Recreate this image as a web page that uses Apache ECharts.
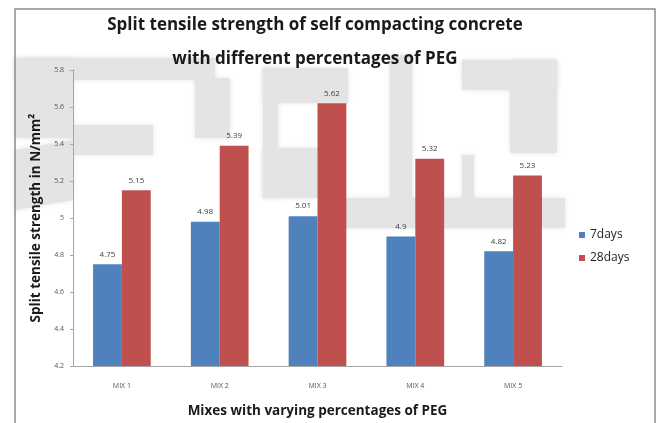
<!DOCTYPE html>
<html>
<head>
<meta charset="utf-8">
<script src="https://cdn.jsdelivr.net/npm/echarts@6/dist/echarts.min.js"></script>
<style>
  html, body { margin: 0; padding: 0; background: #fff; }
  #chart { width: 659px; height: 423px; }
</style>
</head>
<body>
<div id="chart"></div>
<script>
const categories = ["MIX 1", "MIX 2", "MIX 3", "MIX 4", "MIX 5"];
const days7 = [4.75, 4.98, 5.01, 4.9, 4.82];
const days28 = [5.15, 5.39, 5.62, 5.32, 5.23];

const fontFamily = "'Open Sans', 'Liberation Sans', sans-serif";
const mark = "#e4e4e4";

const chart = echarts.init(document.getElementById("chart"));

function barSeries(name, data, color) {
  return {
    name,
    type: "bar",
    data,
    barGap: "0%",
    barCategoryGap: "41%",
    itemStyle: { color },
    label: {
      show: true,
      position: "top",
      distance: 6,
      fontSize: 8,
      color: "#404040",
      fontFamily,
    },
  };
}

// faint watermark letters behind the plot, rough blocks
function block(x, y, width, height) {
  return {
    type: "rect",
    shape: { x, y, width, height },
    style: { fill: mark, shadowBlur: 5, shadowColor: mark },
    silent: true,
    z: -10,
  };
}

chart.setOption({
  animation: false,
  backgroundColor: "#fff",
  graphic: [
    block(15, 58, 200, 22),
    block(15, 58, 58, 80),
    block(73, 125, 80, 30),
    {
      type: "polygon",
      shape: { points: [[15, 150], [73, 140], [73, 200], [15, 210]] },
      style: { fill: mark, shadowBlur: 5, shadowColor: mark },
      silent: true,
      z: -10,
    },
    block(195, 78, 35, 60),
    block(263, 68, 85, 35),
    block(263, 68, 15, 130),
    block(263, 148, 55, 50),
    block(390, 55, 22, 145),
    block(345, 198, 220, 30),
    block(462, 60, 95, 30),
    block(510, 60, 47, 93),
    block(462, 155, 12, 45),
    {
      type: "rect",
      shape: { x: 15, y: 9, width: 640, height: 430 },
      style: { fill: "none", stroke: "#8c8c8c", lineWidth: 1.5 },
      z: -5,
    },
  ],
  title: {
    text: "Split tensile strength of self compacting concrete\nwith different percentages of PEG",
    left: 310,
    top: 3,
    textAlign: "center",
    textStyle: {
      fontFamily,
      fontWeight: "bold",
      fontSize: 17,
      lineHeight: 34,
      color: "#1a1a1a",
    },
  },
  legend: {
    orient: "vertical",
    left: 574,
    top: 224,
    itemWidth: 6,
    itemHeight: 6,
    itemGap: 11,
    icon: "rect",
    textStyle: { fontFamily, fontSize: 12, color: "#222" },
  },
  grid: { left: 73, right: 97, top: 70, bottom: 55 },
  xAxis: {
    type: "category",
    data: categories,
    name: "Mixes with varying percentages of PEG",
    nameLocation: "middle",
    nameGap: 38,
    nameTextStyle: { fontFamily, fontWeight: "bold", fontSize: 13.5, color: "#1a1a1a" },
    axisLine: { lineStyle: { color: "#a6a6a6" } },
    axisTick: { show: false },
    axisLabel: { fontFamily, fontSize: 7, color: "#555", margin: 16 },
  },
  yAxis: {
    type: "value",
    min: 4.2,
    max: 5.8,
    interval: 0.2,
    name: "Split tensile strength in N/mm²",
    nameLocation: "middle",
    nameGap: 25,
    nameTextStyle: { fontFamily, fontWeight: "bold", fontSize: 13.5, color: "#1a1a1a" },
    axisLine: { show: true, lineStyle: { color: "#a6a6a6" } },
    axisTick: { show: true, length: 3, lineStyle: { color: "#a6a6a6" } },
    axisLabel: {
      fontFamily,
      fontSize: 7,
      color: "#555",
      margin: 9,
      formatter: (v) => String(Number(v.toFixed(1))),
    },
    splitLine: { show: false },
  },
  series: [
    barSeries("7days", days7, "#4f81bd"),
    barSeries("28days", days28, "#c0504d"),
  ],
});
</script>
</body>
</html>
